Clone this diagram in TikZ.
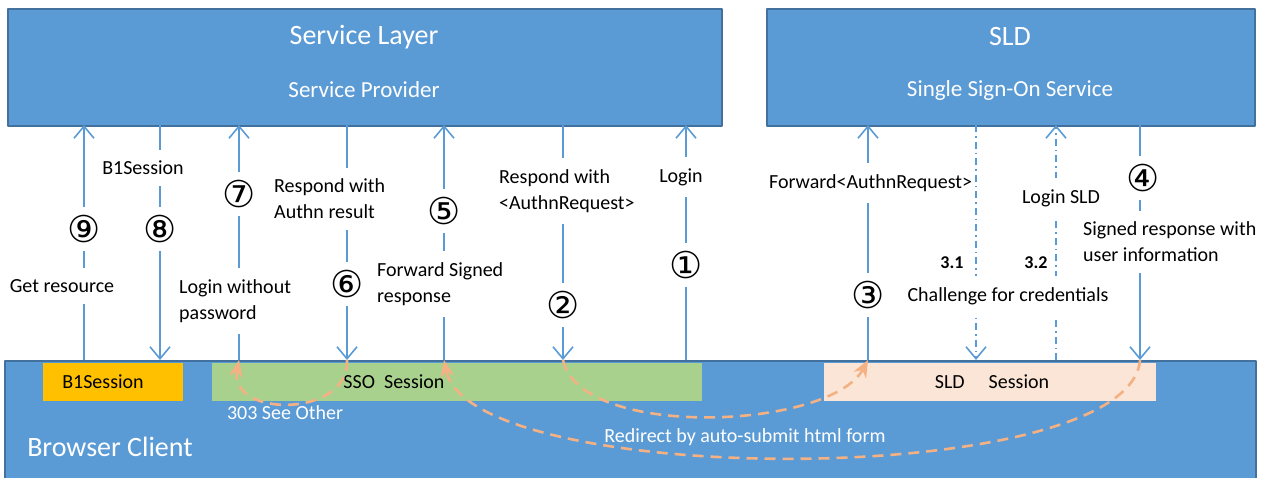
\documentclass[tikz,border=0pt]{standalone}
\usepackage{fontspec}
\setmainfont{Carlito}
\newfontfamily\circfont{DejaVu Sans}
\usetikzlibrary{arrows.meta}
\definecolor{layerblue}{HTML}{5B9BD5}
\definecolor{layeredge}{HTML}{41719C}
\definecolor{goldsess}{HTML}{FFC000}
\definecolor{greensess}{HTML}{A9D18E}
\definecolor{peachsess}{HTML}{FBE5D6}
\definecolor{redirorange}{HTML}{F4B183}
\tikzset{
	layer/.style={draw=layeredge, fill=layerblue, line width=1.5pt, anchor=north west, inner sep=0pt},
	title/.style={text=white, font=\fontsize{28}{32}\selectfont},
	subtitle/.style={text=white, font=\fontsize{23}{28}\selectfont},
	sess/.style={anchor=north west, minimum height=38pt, inner sep=0pt},
	lbl/.style={fill=white, inner xsep=1pt, inner ysep=11pt, align=left},
	stepno/.style={fill=white, inner sep=0pt, minimum height=44pt, font=\circfont\fontsize{37}{37}\selectfont},
	msg/.style={draw=layerblue, line width=1.6pt, -{Straight Barb[length=12pt,width=20pt]}},
	msgdd/.style={msg, dash pattern=on 7pt off 4pt on 1.5pt off 4pt},
	redirect/.style={draw=redirorange, line width=2.6pt, dash pattern=on 11pt off 7pt, -{Stealth[length=17pt,width=14pt]}},
	stepid/.style={font=\bfseries\fontsize{18}{20}\selectfont},
}
\begin{document}
\begin{tikzpicture}[x=1pt, y=-1pt, font=\fontsize{20}{26}\selectfont, line join=round]
	\useasboundingbox (0,0) rectangle (1278,477);
	\node[layer, minimum width=714pt, minimum height=117pt] (sp) at (7,8) {};
	\node[layer, minimum width=488pt, minimum height=117pt] (sld) at (766,8) {};
	\node[layer, minimum width=1251pt, minimum height=130pt] (browser) at (4,360) {};
	\node[title] (sptitle) at (364,37) {Service Layer};
	\node[subtitle] (spsub) at (364,90) {Service Provider};
	\node[title] (sldtitle) at (1010,37) {SLD};
	\node[subtitle] (sldsub) at (1010,90) {Single Sign-On Service};
	\node[title] (bctitle) at (110,447) {Browser Client};
	\node[sess, fill=goldsess, minimum width=140pt] (b1box) at (43,363) {};
	\node (b1txt) at (103,382) {B1Session};
	\node[sess, fill=greensess, minimum width=490pt] (ssobox) at (212,363) {};
	\node (ssotxt) at (394,382) {SSO\ \ Session};
	\node[sess, fill=peachsess, minimum width=332pt] (sldbox) at (824,363) {};
	\node (sldtxt) at (992,382) {SLD\hspace{24pt}Session};
	\foreach \n/\x in {9/84,8/160,7/239,6/347,5/444,2/563,1/686,3/868,31/976,32/1056,4/1140}{
		\coordinate (t\n) at (\x,125);
		\coordinate (b\n) at (\x,360);
	}
	\draw[msg] (b9) -- (t9);
	\draw[msg] (t8) -- (b8);
	\draw[msg] (b7) -- (t7);
	\draw[msg] (t6) -- (b6);
	\draw[msg] (b5) -- (t5);
	\draw[msg] (t2) -- (b2);
	\draw[msg] (b1) -- (t1);
	\draw[msg] (b3) -- (t3);
	\draw[msgdd] (t31) -- (b31);
	\draw[msgdd] (b32) -- (t32);
	\draw[msg] (t4) -- (b4);
	\node[stepno] (n9) at (84,229) {⑨};
	\node[lbl] (l9) at (62,286) {Get resource};
	\node[lbl] (l8) at (143,168) {B1Session};
	\node[stepno] (n8) at (160,229) {⑧};
	\node[stepno] (n7) at (239,194) {⑦};
	\node[lbl, anchor=west] (l7) at (178,301) {Login without\\password};
	\node[lbl, anchor=west] (l6) at (273,199) {Respond with\\Authn result};
	\node[stepno] (n6) at (347,284) {⑥};
	\node[stepno] (n5) at (444,211) {⑤};
	\node[lbl, anchor=west] (l5) at (376,284) {Forward Signed\\response};
	\node[lbl, anchor=west] (l2) at (498,191) {Respond with\\<AuthnRequest>};
	\node[stepno] (n2) at (563,305) {②};
	\node[lbl] (l1) at (681,177) {Login};
	\node[stepno] (n1) at (686,265) {①};
	\node[lbl, anchor=west] (l3) at (768,183) {Forward<AuthnRequest>};
	\node[stepno] (n3) at (868,295) {③};
	\node[stepid] (l31) at (952,263) {3.1};
	\node[stepid] (l32) at (1036,263) {3.2};
	\node[lbl] (l32b) at (1061,198) {Login SLD};
	\node[lbl] (lcc) at (1008,296) {Challenge for credentials};
	\node[stepno] (n4) at (1143,178) {④};
	\node[lbl, anchor=west] (l4) at (1082,242) {Signed response with\\user information};
	\draw[redirect] (b6) .. controls (350,418) and (228,418) .. (b7);
	\draw[redirect] (b2) .. controls (580,440) and (830,430) .. (b3);
	\draw[redirect] (b4) .. controls (1130,490) and (470,490) .. (b5);
	\node[text=white] (seeother) at (285,413) {303 See Other};
	\node[text=white] (autosubmit) at (745,437) {Redirect by auto-submit html form};
\end{tikzpicture}
\end{document}
